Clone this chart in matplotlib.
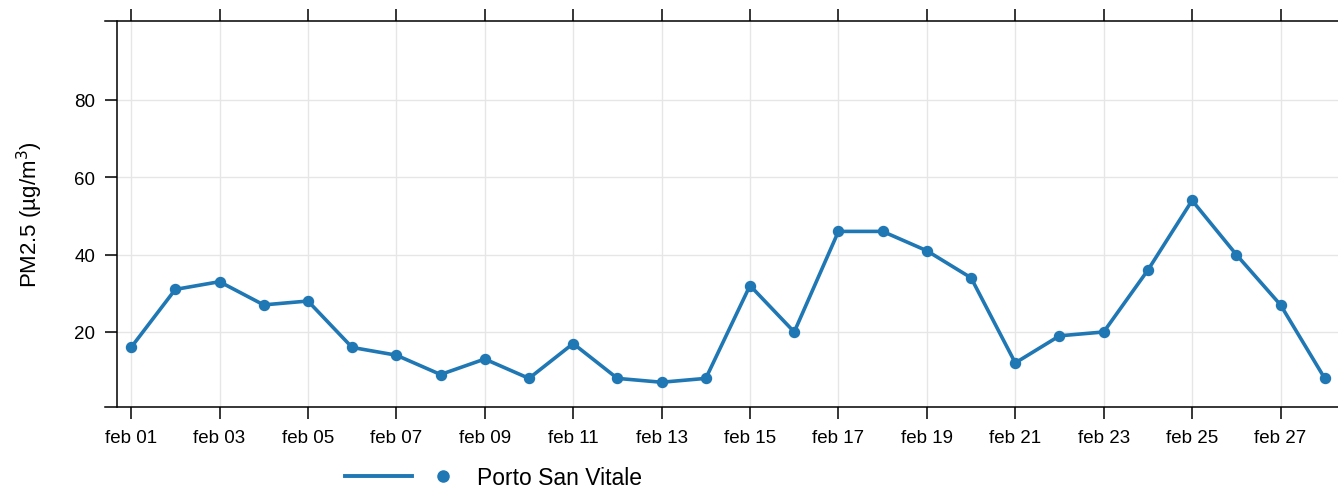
import matplotlib
matplotlib.use('Agg')
import matplotlib.pyplot as plt
from matplotlib.lines import Line2D
from matplotlib.legend_handler import HandlerTuple

plt.rcParams['font.family'] = ['Liberation Sans', 'DejaVu Sans']

# dati giornalieri PM2.5, febbraio
days = list(range(1, 29))
pm25 = [16, 31, 33, 27, 28, 16, 14, 9, 13, 8, 17, 8, 7, 8,
        32, 20, 46, 46, 41, 34, 12, 19, 20, 36, 54, 40, 27, 8]
tick_days = [1, 3, 5, 7, 9, 11, 13, 15, 17, 19, 21, 23, 25, 27]
tick_labels = ['feb %02d' % d for d in tick_days]
y_ticks = [20, 40, 60, 80]
station = 'Porto San Vitale'
color = '#1f77b4'

W, H = 1338, 489
fig = plt.figure(figsize=(W / 100, H / 100), dpi=100)
ax = fig.add_axes([105 / W, (H - 408) / H, (W - 105) / W, (408 - 22) / H])

ax.plot(days, pm25, color=color, lw=2.6, marker='o', ms=7.2, zorder=3, clip_on=False)

ax.set_xlim(0.41, 28.3)
ax.set_ylim(0.6, 100.4)
ax.set_xticks(tick_days)
ax.set_xticklabels(tick_labels)
ax.set_yticks(y_ticks)

ax.grid(True, color='#e6e6e6', lw=1)
ax.set_axisbelow(True)

ax.spines['right'].set_visible(False)
ax.spines['left'].set_position(('axes', 12 / (W - 105)))
for s in ['left', 'top', 'bottom']:
    ax.spines[s].set_linewidth(1.1)

ax.tick_params(axis='x', which='both', top=True, bottom=True, direction='out',
               length=8.5, width=1.1, labelsize=13.5, pad=7)
ax.tick_params(axis='y', direction='out', length=8.5, width=1.1, labelsize=13.5, pad=7)
ax.set_ylabel('PM2.5 (µg/m$^3$)', fontsize=16)
ax.yaxis.set_label_coords(-0.049, 0.5)

h_line = Line2D([], [], color=color, lw=2.8)
h_mark = Line2D([], [], color=color, lw=0, marker='o', ms=8)
fig.legend([(h_line, h_mark)], [station], handler_map={tuple: HandlerTuple(ndivide=2, pad=-0.11)},
           loc='center left', bbox_to_anchor=(345 / W, 1 - 479 / H), frameon=False,
           fontsize=16.5, handlelength=5.74, handletextpad=0.0, borderpad=0, borderaxespad=0)

fig.savefig('out.png', dpi=100)
